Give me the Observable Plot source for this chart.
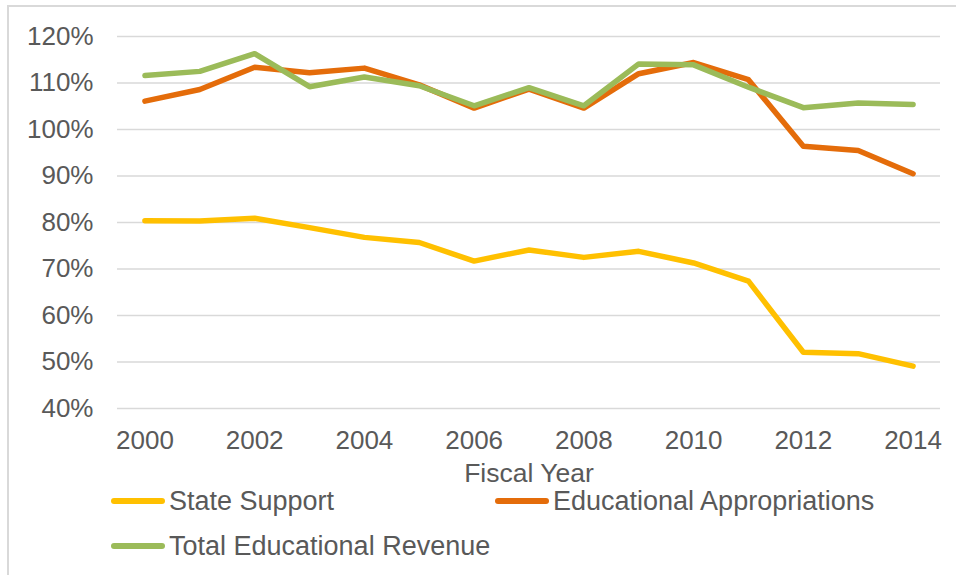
<!DOCTYPE html>
<html>
<head>
<meta charset="utf-8">
<script src="https://cdn.jsdelivr.net/npm/d3@7"></script>
<script src="https://cdn.jsdelivr.net/npm/@observablehq/plot@0.6"></script>
<style>
  html, body { margin: 0; padding: 0; background: #fff; }
  #wrap { position: relative; width: 956px; height: 575px; overflow: hidden; font-family: "Liberation Sans", Arial, sans-serif; }
  #frame { position: absolute; left: 7px; top: 5px; width: 1000px; height: 1000px; border-left: 2px solid #d9d9d9; border-top: 2px solid #d9d9d9; }
  #chart { position: absolute; left: 0; top: 0; }
  .item { position: absolute; display: flex; align-items: center; height: 30px; font-size: 27px; color: #595959; white-space: nowrap; }
  .sw { width: 54px; height: 6px; border-radius: 3px; margin-right: 4px; }
</style>
</head>
<body>
<div id="wrap">
  <div id="frame"></div>
  <div id="chart"></div>
  <div id="legend"></div>
</div>
<script>
const years = [2000, 2001, 2002, 2003, 2004, 2005, 2006, 2007, 2008, 2009, 2010, 2011, 2012, 2013, 2014];
const stateSupport = [80.4, 80.3, 80.9, 78.9, 76.8, 75.7, 71.7, 74.1, 72.5, 73.8, 71.3, 67.4, 52.1, 51.8, 49.1];
const eduApprop = [106.1, 108.6, 113.4, 112.2, 113.2, 109.6, 104.6, 108.7, 104.6, 112.0, 114.4, 110.7, 96.4, 95.5, 90.5];
const totalRev = [111.6, 112.5, 116.3, 109.2, 111.3, 109.4, 105.1, 109.0, 105.1, 114.1, 113.9, 109.1, 104.7, 105.7, 105.4];
const xTicks = [2000, 2002, 2004, 2006, 2008, 2010, 2012, 2014];
const yTicks = [40, 50, 60, 70, 80, 90, 100, 110, 120];
const seriesNames = ["State Support", "Educational Appropriations", "Total Educational Revenue"];
const seriesColors = ["#FFC000", "#E46C0A", "#9BBB59"];
const axisTitle = "Fiscal Year";

const seriesValues = [stateSupport, eduApprop, totalRev];
const rows = seriesNames.flatMap((name, i) => years.map((yr, j) => ({series: name, year: yr, value: seriesValues[i][j]})));

const chart = Plot.plot({
  width: 956,
  height: 490,
  marginLeft: 117,
  marginRight: 16,
  marginTop: 36,
  marginBottom: 82,
  style: {fontFamily: "'Liberation Sans', Arial, sans-serif", fontSize: "26px", color: "#595959", background: "transparent", overflow: "visible"},
  x: {domain: [1999.5, 2014.5]},
  y: {domain: [40, 120]},
  color: {domain: seriesNames, range: seriesColors},
  marks: [
    Plot.ruleY(yTicks, {stroke: "#d9d9d9", strokeWidth: 1.6}),
    Plot.axisY({ticks: yTicks, tickSize: 0, tickPadding: 24, tickFormat: d => d + "%", label: null, fontSize: 26}),
    Plot.axisX({ticks: xTicks, tickSize: 0, tickPadding: 22, tickFormat: d => String(d), label: null, fontSize: 26}),
    Plot.text([axisTitle], {x: 2007, frameAnchor: "bottom", lineAnchor: "middle", dy: 65, text: d => d, fontSize: 26.5, fill: "#595959"}),
    Plot.line(rows, {x: "year", y: "value", z: "series", stroke: "series", strokeWidth: 5.5, strokeLinecap: "round", strokeLinejoin: "round"})
  ]
});
document.getElementById("chart").appendChild(chart);

const legendPos = [[111, 486], [495, 486], [111, 531]];
const legend = document.getElementById("legend");
seriesNames.forEach((name, i) => {
  const it = document.createElement("div");
  it.className = "item";
  it.style.left = legendPos[i][0] + "px";
  it.style.top = legendPos[i][1] + "px";
  const sw = document.createElement("div");
  sw.className = "sw";
  sw.style.background = seriesColors[i];
  const tx = document.createElement("span");
  tx.textContent = name;
  it.appendChild(sw);
  it.appendChild(tx);
  legend.appendChild(it);
});
</script>
</body>
</html>
